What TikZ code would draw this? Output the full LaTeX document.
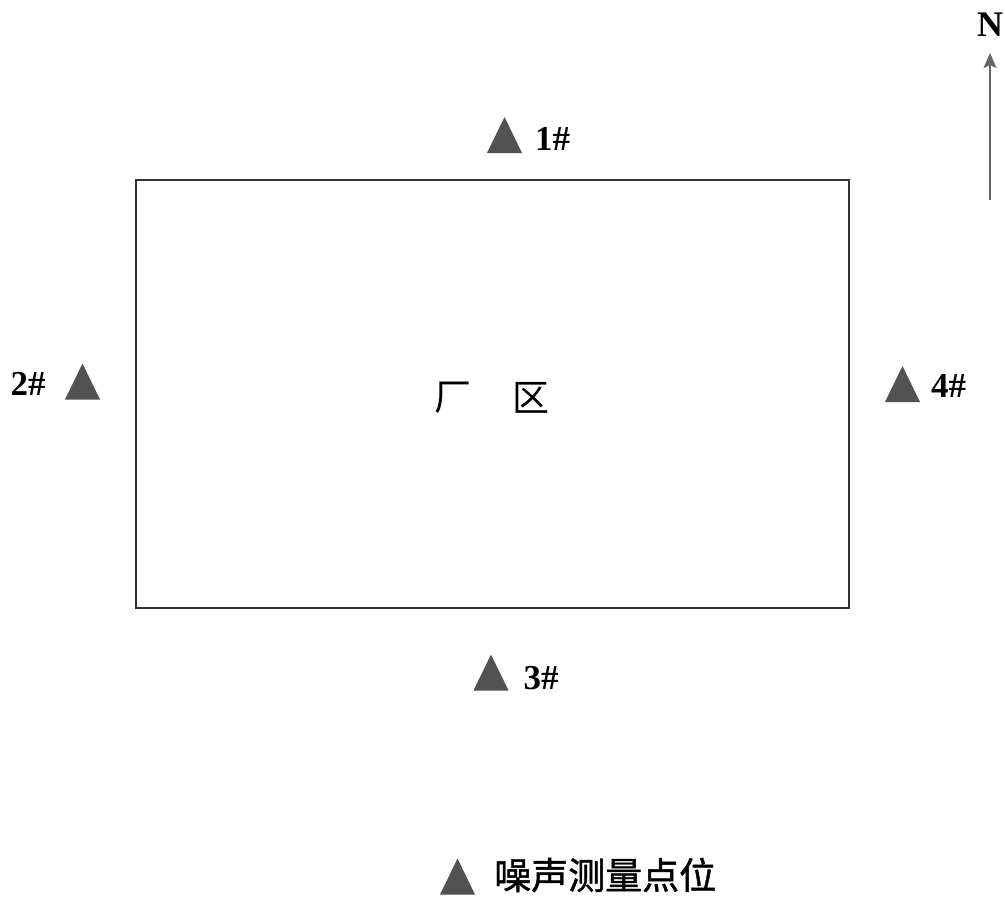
\documentclass[tikz,border=0pt]{standalone}
\usepackage{fontspec}
\setmainfont{Liberation Serif}
\newfontfamily\cjk{Noto Sans CJK SC}
\newfontfamily\cjkb[FakeBold=1.2]{Noto Sans CJK SC}
\usetikzlibrary{arrows.meta}
\begin{document}
\begin{tikzpicture}[x=1pt,y=-1pt,
  tri/.style={fill=black!68},
  lbl/.style={font=\fontsize{35}{35}\selectfont\bfseries, inner sep=0pt, anchor=base},
  cjklbl/.style={font=\cjk\fontsize{37}{37}\selectfont, inner sep=0pt},
  box/.style={draw=black!80, line width=1.4pt}
]
\useasboundingbox (0,0) rectangle (1005,897);
\newcommand{\marktri}[3]{\coordinate (#1) at (#2,#3);
  \fill[tri] ([xshift=-17.5pt,yshift=-18pt]#1) -- ([xshift=17.5pt,yshift=-18pt]#1) -- ([yshift=18pt]#1) -- cycle;}
% site boundary
\node[box, minimum width=713pt, minimum height=428pt, inner sep=0pt] (site) at (492.5,394) {};
\node[cjklbl] (zc) at (453,398) {厂};
\node[cjklbl] (zq) at (531,398) {区};
% measurement points
\marktri{t1}{504.5}{135}
\node[lbl] (l1) at (552.5,150) {1\#};
\marktri{t2}{82.5}{381.5}
\node[lbl] (l2) at (28,395) {2\#};
\marktri{t4}{902.5}{384}
\node[lbl] (l4) at (948.5,397) {4\#};
\marktri{t3}{491}{672.5}
\node[lbl] (l3) at (541,689) {3\#};
% legend
\marktri{tl}{457.5}{876.5}
\node[cjklbl, font=\cjkb\fontsize{37}{37}\selectfont, anchor=west] (leg) at (494,875) {噪声测量点位};
% north arrow
\node[font=\fontsize{36}{36}\selectfont\bfseries, inner sep=0pt] (N) at (990,25) {N};
\coordinate (nb) at (990,200);
\coordinate (nt) at (990,53);
\draw[black!60, line width=1.5pt, -{Stealth[length=15pt,width=13pt,inset=3pt]}] (nb) -- (nt);
\end{tikzpicture}
\end{document}
